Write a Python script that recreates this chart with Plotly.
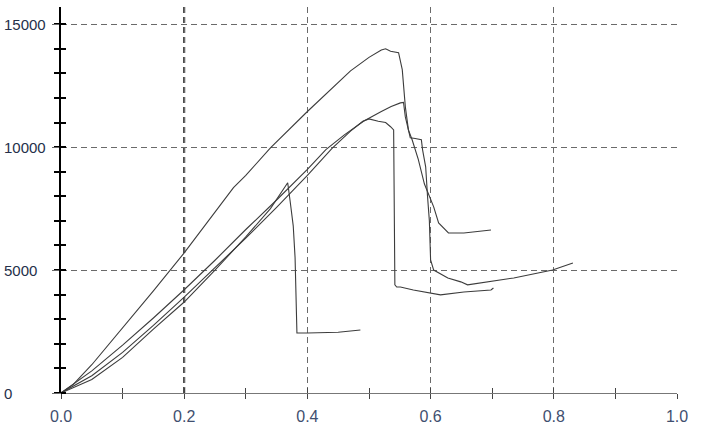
import plotly.graph_objects as go

# ---- data ----
a_x = [0, 0.02, 0.05, 0.1, 0.15, 0.2, 0.25, 0.28, 0.3, 0.34, 0.4, 0.437,
       0.47, 0.5, 0.52, 0.527, 0.535, 0.548, 0.554, 0.559, 0.564, 0.57, 0.58, 0.59, 0.605, 0.613,
       0.629, 0.654, 0.698]
a_y = [0, 350, 1150, 2650, 4150, 5700, 7350, 8350, 8850, 9970, 11450, 12330,
       13100, 13650, 13950, 14000, 13900, 13840, 13150, 11640, 10700, 10300, 9500, 8500, 7570, 6920,
       6510, 6510, 6630]

b_x = [0, 0.05, 0.1, 0.15, 0.2, 0.25, 0.3, 0.35, 0.4, 0.43, 0.46, 0.491, 0.52, 0.536,
       0.551, 0.556, 0.559, 0.567, 0.575, 0.585, 0.587, 0.592, 0.595, 0.598, 0.6, 0.605, 0.628,
       0.649, 0.66, 0.735, 0.798, 0.831]
b_y = [0, 900, 1950, 3050, 4200, 5400, 6650, 7850, 9100, 9900, 10500, 11050, 11450, 11650,
       11800, 11820, 11230, 10380, 10350, 10300, 9890, 9200, 8000, 7000, 5410, 5000, 4680,
       4520, 4400, 4680, 5000, 5290]

c_x = [0, 0.05, 0.1, 0.15, 0.2, 0.25, 0.3, 0.35, 0.4, 0.44, 0.47, 0.49, 0.5, 0.515, 0.527, 0.535,
       0.54, 0.542, 0.545, 0.551, 0.572, 0.616, 0.654, 0.698, 0.702]
c_y = [0, 700, 1650, 2750, 3900, 5100, 6300, 7550, 8850, 9950, 10650, 11050, 11150, 11050, 11000,
       10830, 10700, 4400, 4310, 4310, 4190, 3990, 4110, 4190, 4270]

d_x = [0, 0.05, 0.1, 0.15, 0.2, 0.25, 0.3, 0.34, 0.364, 0.368, 0.372, 0.377, 0.38, 0.383,
       0.4, 0.45, 0.486]
d_y = [0, 550, 1450, 2600, 3700, 5000, 6350, 7500, 8400, 8550, 7800, 6800, 5500, 2440,
       2440, 2470, 2560]

x_ticks = [0.0, 0.2, 0.4, 0.6, 0.8, 1.0]
x_labels = ["0.0", "0.2", "0.4", "0.6", "0.8", "1.0"]
y_ticks = [0, 5000, 10000, 15000]
y_labels = ["0", "5000", "10000", "15000"]
x_dark_grid = 0.2

X_RANGE = [0, 1.0]
Y_RANGE = [0, 15700]

fig = go.Figure()
for xs, ys in [(a_x, a_y), (b_x, b_y), (c_x, c_y), (d_x, d_y)]:
    fig.add_trace(go.Scatter(x=xs, y=ys, mode="lines",
                             line=dict(color="#3c3c3c", width=1.1),
                             showlegend=False, hoverinfo="skip"))
# dummy trace to activate overlay axes (inside tick marks)
fig.add_trace(go.Scatter(x=[], y=[], xaxis="x2", yaxis="y2", showlegend=False))

grid_col = "#6a6a6a"
fig.update_layout(
    width=702, height=428,
    margin=dict(l=61, r=25, t=7, b=35, autoexpand=False),
    paper_bgcolor="white", plot_bgcolor="white",
    font=dict(family="Liberation Sans, Arial, sans-serif"),
    xaxis=dict(range=X_RANGE, tickvals=x_ticks, ticktext=x_labels, automargin=False,
               showgrid=True, gridcolor=grid_col, gridwidth=1, griddash="6px,4px",
               showline=True, linecolor="#777", linewidth=1,
               ticks="outside", ticklen=5, tickcolor="#444", tickwidth=1,
               ticklabelstandoff=4,
               tickfont=dict(size=16, color="#3f4f6f"),
               minor=dict(dtick=0.1, ticks="outside", ticklen=5, tickcolor="#444", showgrid=False),
               zeroline=False, fixedrange=True),
    yaxis=dict(range=Y_RANGE, tickvals=y_ticks, showticklabels=False, automargin=False,
               showgrid=True, gridcolor=grid_col, gridwidth=1, griddash="6px,4px",
               showline=True, linecolor="black", linewidth=2,
               ticks="outside", ticklen=7, tickcolor=grid_col, tickwidth=1,
               minor=dict(dtick=1000, ticks="outside", ticklen=5, tickcolor="black", tickwidth=2,
                          showgrid=False),
               zeroline=False, fixedrange=True),
    xaxis2=dict(range=X_RANGE, overlaying="x", anchor="y", side="bottom", automargin=False,
                tickvals=x_ticks, showticklabels=False, showgrid=False, showline=False,
                ticks="inside", ticklen=5, tickcolor="#444",
                minor=dict(dtick=0.1, ticks="inside", ticklen=5, tickcolor="#444", showgrid=False),
                zeroline=False, fixedrange=True),
    yaxis2=dict(range=Y_RANGE, overlaying="y", anchor="x", side="left", automargin=False,
                tickvals=y_ticks, showticklabels=False, showgrid=False, showline=False,
                ticks="", minor=dict(dtick=1000, ticks="inside", ticklen=5, tickcolor="black",
                                     tickwidth=2, showgrid=False),
                zeroline=False, fixedrange=True),
)

# emphasised dashed vertical grid line
fig.add_shape(type="line", xref="x", yref="paper", x0=x_dark_grid, x1=x_dark_grid, y0=0, y1=1,
              line=dict(color="#222", width=2, dash="6px,4px"), layer="below")

# left-aligned y tick labels
for v, t in zip(y_ticks, y_labels):
    fig.add_annotation(xref="paper", yref="y", x=0, y=v, text=t, showarrow=False,
                       xanchor="left", yanchor="middle", xshift=-59,
                       font=dict(size=15, color="#25304a"))

# remove the browser's default 8px page margin so the figure sits at the window origin
fig.write_html("out.html", config={"displayModeBar": False},
               post_script="document.body.style.margin='0';document.body.style.overflow='hidden';")
